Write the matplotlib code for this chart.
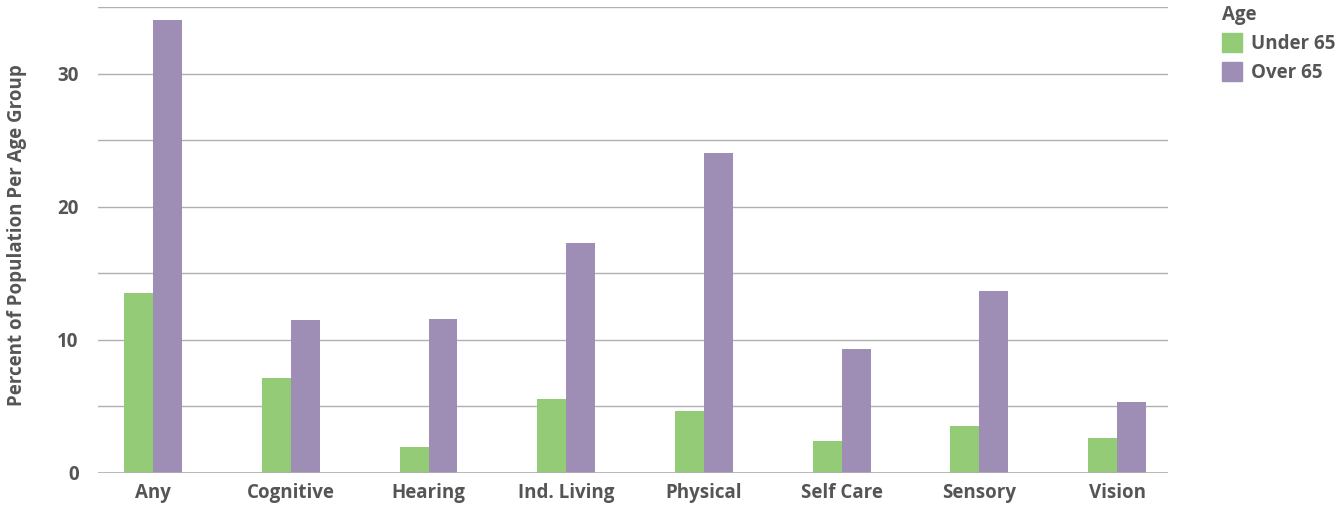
import numpy as np
import matplotlib.pyplot as plt
from matplotlib.patches import Patch

plt.rcParams['font.family'] = ['Open Sans', 'DejaVu Sans']

categories = ['Any', 'Cognitive', 'Hearing', 'Ind. Living', 'Physical', 'Self Care', 'Sensory', 'Vision']
under_65 = [13.5, 7.1, 1.95, 5.55, 4.65, 2.4, 3.5, 2.6]
over_65 = [34.0, 11.5, 11.6, 17.25, 24.0, 9.3, 13.65, 5.3]

green = '#93CB76'
purple = '#9E8DB5'
text_col = '#555555'
fs = 13.5

fig = plt.figure(figsize=(13.4, 5.08), dpi=100)
ax = fig.add_axes([98 / 1340, 35 / 508, 1070 / 1340, 466 / 508])

x = np.arange(len(categories))
w = 0.21
ax.bar(x - w / 2, under_65, w, color=green, zorder=3)
ax.bar(x + w / 2, over_65, w, color=purple, zorder=3)

ax.set_xlim(-0.4, 7.37)
ax.set_ylim(0, 35)
ax.set_yticks([0, 5, 10, 15, 20, 25, 30, 35])
ax.set_yticklabels(['0', '', '10', '', '20', '', '30', ''])
ax.yaxis.grid(True, color='#b0b0b0', linewidth=1, zorder=0)
ax.set_xticks(x)
ax.set_xticklabels(categories)
ax.tick_params(axis='x', length=0, labelsize=fs, labelcolor=text_col, pad=7)
ax.tick_params(axis='y', length=0, labelsize=fs, labelcolor=text_col, pad=14)
for lab in ax.get_xticklabels() + ax.get_yticklabels():
    lab.set_fontweight('bold')
for s in ax.spines.values():
    s.set_visible(False)
ax.axhline(0, color='#b0b0b0', linewidth=1.2, zorder=4)

ax.set_ylabel('Percent of Population Per Age Group', fontsize=fs, color=text_col,
              fontweight='bold')
ax.yaxis.set_label_coords(-0.0665, 0.51)

handles = [Patch(color=green, label='Under 65'), Patch(color=purple, label='Over 65')]
leg = fig.legend(handles=handles, title='Age', loc='upper left', bbox_to_anchor=(1201 / 1340, 1.03),
                 frameon=False, fontsize=fs, title_fontsize=fs, handlelength=1.1, handleheight=1.2,
                 handletextpad=0.45, labelspacing=0.42, borderpad=0.6)
leg._legend_box.align = 'left'
leg.get_title().set_color(text_col)
leg.get_title().set_fontweight('bold')
for t in leg.get_texts():
    t.set_color(text_col)
    t.set_fontweight('bold')

fig.savefig('out.png', dpi=100)
